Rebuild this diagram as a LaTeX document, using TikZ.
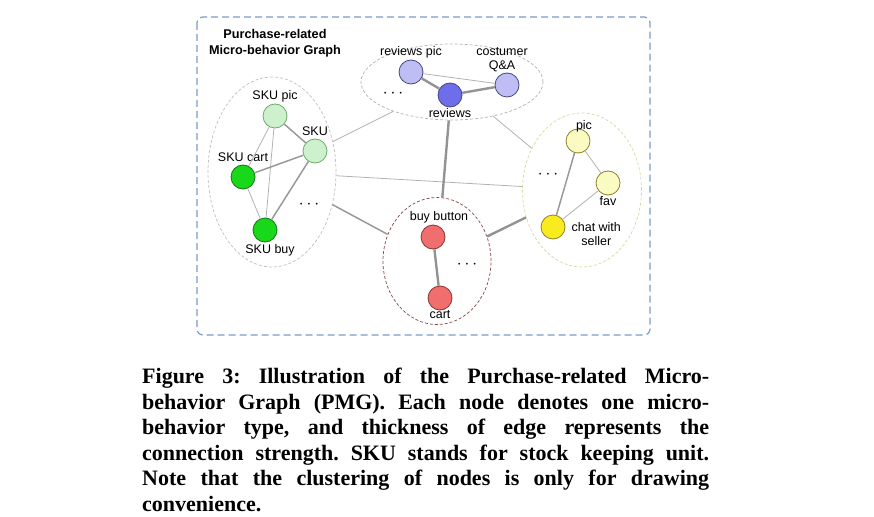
\documentclass[tikz,border=0pt]{standalone}
\usepackage{fontspec}
\setmainfont{Liberation Serif}
\setsansfont{Liberation Sans}
\usetikzlibrary{positioning,shapes.geometric}

\definecolor{skulight}{RGB}{205,240,205}
\definecolor{skuline}{RGB}{110,170,110}
\definecolor{skugreen}{RGB}{25,215,25}
\definecolor{skudark}{RGB}{20,120,20}
\definecolor{revlight}{RGB}{190,190,245}
\definecolor{revblue}{RGB}{110,110,235}
\definecolor{revdark}{RGB}{70,70,130}
\definecolor{shoplight}{RGB}{250,250,195}
\definecolor{shopyellow}{RGB}{250,235,30}
\definecolor{shopdark}{RGB}{140,130,40}
\definecolor{shopdash}{RGB}{215,215,160}
\definecolor{buyred}{RGB}{240,110,110}
\definecolor{buydark}{RGB}{140,50,50}
\definecolor{buydash}{RGB}{130,70,70}
\definecolor{boxblue}{RGB}{125,155,200}

\begin{document}
\frenchspacing
\begin{tikzpicture}[x=1pt,y=-1pt,
  micro/.style={circle,minimum size=24pt,inner sep=0pt,line width=0.8pt},
  cluster/.style={ellipse,inner sep=0pt,draw=gray!50,line width=0.7pt,
    dash pattern=on 3pt off 2pt},
  lbl/.style={font=\sffamily\fontsize{12.5}{14}\selectfont,inner sep=1pt,align=center},
  dots/.style={inner sep=0pt,font=\fontsize{18}{18}\selectfont},
  weak/.style={draw=gray!60,line width=0.8pt},
  medium/.style={draw=gray!80,line width=1.5pt},
  strong/.style={draw=gray!85,line width=2.4pt},
  capline/.style={anchor=base west,inner sep=0pt,
    font=\bfseries\fontsize{22}{25.5}\selectfont}]
  \useasboundingbox (0,0) rectangle (874,516);

  % outer frame and title
  \draw[boxblue,line width=1.2pt,rounded corners=6pt,dash pattern=on 7pt off 4pt]
    (197,17) rectangle (650,335);
  \node[font=\sffamily\bfseries\fontsize{12.7}{16}\selectfont,align=center]
    (pmg) at (275,43) {Purchase-related\\Micro-behavior Graph};

  % clusters
  \node[cluster,minimum width=128pt,minimum height=190pt] (skuset) at (272,172) {};
  \node[cluster,draw=gray!60,minimum width=182pt,minimum height=76pt] (revset) at (452,82) {};
  \node[cluster,draw=shopdash,minimum width=119pt,minimum height=154pt] (shopset) at (582,190) {};
  \node[cluster,draw=buydash,minimum width=108pt,minimum height=127pt] (buyset) at (437,261) {};

  \draw[weak] (skuset) -- (revset);
  \draw[weak] (skuset) -- (shopset);
  \draw[medium] (skuset) -- (buyset);
  \draw[strong] (revset) -- (buyset);
  \draw[weak] (revset) -- (shopset);
  \draw[strong] (buyset) -- (shopset);

  % SKU cluster
  \node[micro,fill=skulight,draw=skuline] (skupic) at (275,116) {};
  \node[micro,fill=skulight,draw=skuline] (sku) at (315,151) {};
  \node[micro,fill=skugreen,draw=skudark] (skucart) at (243,177) {};
  \node[micro,fill=skugreen,draw=skudark] (skubuy) at (265,230) {};
  \node[lbl,above=0pt of skupic] (skupiclbl) {SKU pic};
  \node[lbl,above=2pt of sku] (skulbl) {SKU};
  \node[lbl,above=2pt of skucart] (skucartlbl) {SKU cart};
  \node[lbl,below=1pt of skubuy,xshift=5pt] (skubuylbl) {SKU buy};
  \node[dots] (skudots) at (309,205) {$\cdots$};
  \draw[medium] (skupic) -- (sku);
  \draw[weak] (skupic) -- (skucart);
  \draw[weak] (skupic) -- (skubuy);
  \draw[medium] (sku) -- (skucart);
  \draw[medium] (sku) -- (skubuy);
  \draw[weak] (skucart) -- (skubuy);

  % reviews cluster
  \node[micro,fill=revlight,draw=revdark] (revpic) at (411,72) {};
  \node[micro,fill=revblue,draw=revdark] (reviews) at (450,95) {};
  \node[micro,fill=revlight,draw=revdark] (qa) at (507,85) {};
  \node[lbl,above=0pt of revpic] (revpiclbl) {reviews pic};
  \node[lbl,below=0pt of reviews] (reviewslbl) {reviews};
  \node[lbl,above=0pt of qa,xshift=-5pt,font=\sffamily\fontsize{12.5}{13.5}\selectfont]
    (qalbl) {costumer\\Q\&A};
  \node[dots] (revdots) at (393,94) {$\cdots$};
  \draw[strong] (revpic) -- (reviews);
  \draw[strong] (reviews) -- (qa);
  \draw[weak] (revpic) -- (qa);

  % shop cluster
  \node[micro,fill=shoplight,draw=shopdark] (pic) at (578,141) {};
  \node[micro,fill=shoplight,draw=shopdark] (fav) at (608,183) {};
  \node[micro,fill=shopyellow,draw=shopdark] (chat) at (553,227) {};
  \node[lbl,above=-5pt of pic,xshift=6pt] (piclbl) {pic};
  \node[lbl,below=0pt of fav] (favlbl) {fav};
  \node[lbl,right=5pt of chat,yshift=-7pt,font=\sffamily\fontsize{12.5}{14}\selectfont]
    (chatlbl) {chat with\\seller};
  \node[dots] (shopdots) at (548,175) {$\cdots$};
  \draw[weak] (pic) -- (fav);
  \draw[medium] (pic) -- (chat);
  \draw[weak] (fav) -- (chat);

  % buy cluster
  \node[micro,fill=buyred,draw=buydark] (buybtn) at (433,237) {};
  \node[micro,fill=buyred,draw=buydark] (cart) at (440,298) {};
  \node[lbl,above=0pt of buybtn,xshift=6pt] (buybtnlbl) {buy button};
  \node[lbl,below=-1pt of cart] (cartlbl) {cart};
  \node[dots] (buydots) at (467,265) {$\cdots$};
  \draw[strong] (buybtn) -- (cart);

  % caption
  \node[capline] (cap1) at (142,383.5)
    {\makebox[567pt][s]{Figure 3: Illustration of the Purchase-related Micro-}};
  \node[capline] (cap2) at (142,409)
    {\makebox[567pt][s]{behavior Graph (PMG). Each node denotes one micro-}};
  \node[capline] (cap3) at (142,434.5)
    {\makebox[567pt][s]{behavior type, and thickness of edge represents the}};
  \node[capline] (cap4) at (142,460)
    {\makebox[567pt][s]{connection strength. SKU stands for stock keeping unit.}};
  \node[capline] (cap5) at (142,485.5)
    {\makebox[567pt][s]{Note that the clustering of nodes is only for drawing}};
  \node[capline] (cap6) at (142,511) {convenience.};
\end{tikzpicture}
\end{document}
